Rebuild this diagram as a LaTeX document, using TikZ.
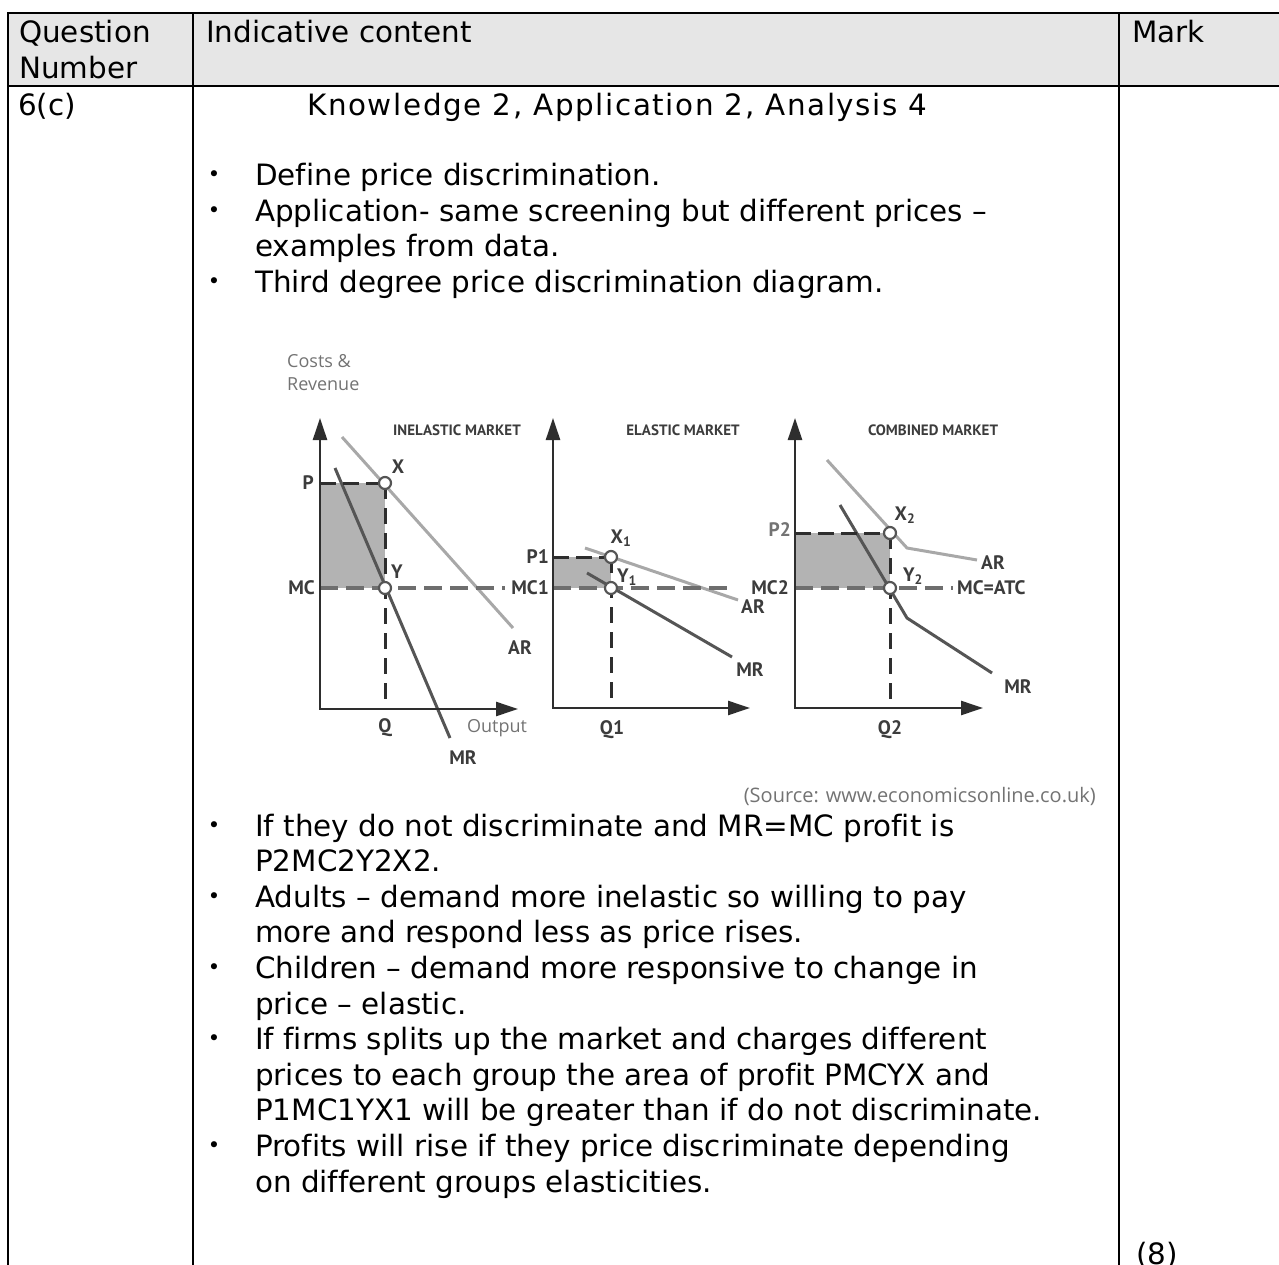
\documentclass[tikz,border=0pt]{standalone}
\usepackage{fontspec}
\setmainfont{DejaVu Sans}[Ligatures=NoCommon]
\newfontfamily\plotfont{Open Sans}
\newfontfamily\tagfont{PT Sans}
\usetikzlibrary{matrix,positioning,calc,arrows.meta}

\definecolor{headfill}{HTML}{E6E6E6}
\definecolor{profit}{HTML}{B3B3B3}
\definecolor{arcol}{HTML}{A8A8A8}
\definecolor{mrcol}{HTML}{555555}
\definecolor{axcol}{HTML}{2E2E2E}
\definecolor{mccol}{HTML}{6E6E6E}
\definecolor{tagcol}{HTML}{3C3C3C}
\definecolor{notecol}{HTML}{737373}

\begin{document}
\begin{tikzpicture}[x=1pt, y=-1pt,
    body/.style={anchor=base west, inner sep=0pt,
      font=\fontsize{29.4}{35.5}\selectfont},
    dot/.style={anchor=base, inner sep=0pt,
      font=\fontsize{21}{22}\selectfont},
    axis/.style={draw=axcol, line width=2.5pt,
      {Triangle[length=22pt, width=14pt]}-{Triangle[length=22pt, width=14pt]}},
    arline/.style={draw=arcol, line width=3pt},
    mrline/.style={draw=mrcol, line width=3pt},
    pline/.style={draw=axcol, line width=3pt, dash pattern=on 16pt off 7pt},
    mcline/.style={draw=mccol, line width=3.5pt, dash pattern=on 18pt off 8pt},
    qline/.style={draw=axcol, line width=3pt, dash pattern=on 16pt off 9pt},
    eq/.style={circle, draw=mrcol, fill=white, line width=2.2pt,
      minimum size=12pt, inner sep=0pt},
    tag/.style={inner sep=0pt, text=tagcol,
      font=\tagfont\bfseries\fontsize{19.5}{21}\selectfont},
    head/.style={inner sep=0pt, text=tagcol,
      font=\tagfont\bfseries\fontsize{15}{17}\selectfont},
    note/.style={inner sep=0pt, text=notecol,
      font=\plotfont\fontsize{18}{23}\selectfont}]

\useasboundingbox (0,0) rectangle (1279,1265);

% table frame
\matrix (tbl) [matrix of nodes, nodes in empty cells, anchor=north west,
    inner sep=0pt, column sep=-2pt, row sep=-2pt,
    nodes={draw, line width=2pt, inner sep=0pt},
    column 1/.style={nodes={minimum width=185pt}},
    column 2/.style={nodes={minimum width=926pt}},
    column 3/.style={nodes={minimum width=200pt}},
    row 1/.style={nodes={minimum height=73pt, fill=headfill}},
    row 2/.style={nodes={minimum height=1250pt}}] at (7,12) {
  & & \\
  & & \\
};

% header row
\node[body] (qhead) at (19,43) {Question};
\node[body] (qhead2) at (19,78.5) {Number};
\node[body] (chead) at (206,43) {Indicative content};
\node[body] (mhead) at (1132,43) {Mark};

% first row
\node[body] (qno) at (18,116) {6(c)};
\node[body] (weights) at (307,116)
  {\addfontfeature{LetterSpace=5.5}Knowledge 2, Application 2, Analysis 4};
\foreach \ln [count=\i from 0] in {{Define price discrimination.},
    {Application- same screening but different prices –},
    {examples from data.},
    {Third degree price discrimination diagram.}}
  \node[body] (top\i) at (255,{186+35.5*\i}) {\ln};
\foreach \i in {0,1,3}
  \node[dot] (tdot\i) at (214,{182+35.5*\i}) {•};

\foreach \ln [count=\i from 0] in {{If they do not discriminate and MR=MC profit is},
    {P2MC2Y2X2.},
    {Adults – demand more inelastic so willing to pay},
    {more and respond less as price rises.},
    {Children – demand more responsive to change in},
    {price – elastic.},
    {If firms splits up the market and charges different},
    {prices to each group the area of profit PMCYX and},
    {P1MC1YX1 will be greater than if do not discriminate.},
    {Profits will rise if they price discriminate depending},
    {on different groups elasticities.}}
  \node[body] (low\i) at (255,{836+35.6*\i}) {\ln};
\foreach \i in {0,2,4,6,9}
  \node[dot] (ldot\i) at (214,{832+35.6*\i}) {•};

\node[body] (mark) at (1136,1264) {(8)};

% diagram
\node[note, anchor=north west, align=left] (costs) at (287,354)
  {Costs \&\\Revenue};

\coordinate (o1) at (320,709);
\coordinate (o2) at (553,708);
\coordinate (o3) at (795,708);
\coordinate (x1) at (385,483);
\coordinate (y1) at (385,588);
\coordinate (x2) at (611,557);
\coordinate (y2) at (611,588);
\coordinate (x3) at (890,533);
\coordinate (y3) at (890,588);

\fill[profit] (o1 |- x1) rectangle (y1);
\fill[profit] (o2 |- x2) rectangle (y2);
\fill[profit] (o3 |- x3) rectangle (y3);

\draw[arline] (342,437) -- (513,628);
\draw[mrline] (335,468) -- (450,738);
\draw[arline] (585,548) -- (738,600);
\draw[mrline] (587,573) -- (732,657);
\draw[arline] (827,460) -- (907,548) -- (977,560);
\draw[mrline] (840,505) -- (907,618) -- (992,673);

\draw[pline] (o1 |- x1) -- (x1);
\draw[pline] (o2 |- x2) -- (x2);
\draw[pline] (o3 |- x3) -- (x3);
\draw[mcline] (o1 |- y1) -- (505,588);
\draw[mcline] (o2 |- y2) -- (733,588);
\draw[mcline] (o3 |- y3) -- (953,588);
\draw[qline] (x1) -- (o1 -| x1);
\draw[qline] (x2) -- (o2 -| x2);
\draw[qline] (x3) -- (o3 -| x3);

\draw[axis] (320,418) -- (o1) -- (518,709);
\draw[axis] (553,418) -- (o2) -- (750,708);
\draw[axis] (795,418) -- (o3) -- (983,708);

\node[eq] (ptX) at (x1) {};
\node[eq] (ptY) at (y1) {};
\node[eq] (ptXa) at (x2) {};
\node[eq] (ptYa) at (y2) {};
\node[eq] (ptXb) at (x3) {};
\node[eq] (ptYb) at (y3) {};

\node[head] (h1) at (457,430) {INELASTIC MARKET};
\node[head] (h2) at (683,430) {ELASTIC MARKET};
\node[head] (h3) at (933,430) {COMBINED MARKET};

\node[tag, anchor=east] (lP) at (314,483) {P};
\node[tag, anchor=east] (lMC) at (315,588) {MC};
\node[tag] (lX) at (398,467) {X};
\node[tag] (lY) at (397,572) {Y};
\node[tag] (lAR) at (520,648) {AR};
\node[tag] (lQ) at (385,728) {Q};
\node[note] (lout) at (497,728) {Output};
\node[tag] (lMR) at (463,758) {MR};

\node[tag, anchor=east] (lP1) at (549,557) {P1};
\node[tag, anchor=east] (lMC1) at (549,588) {MC1};
\node[tag] (lX1) at (621,538) {X\textsubscript{1}};
\node[tag] (lY1) at (627,577) {Y\textsubscript{1}};
\node[tag] (lAR1) at (753,607) {AR};
\node[tag] (lMR1) at (750,670) {MR};
\node[tag] (lQ1) at (612,730) {Q1};

\node[tag, anchor=east, text=notecol] (lP2) at (791,530) {P2};
\node[tag, anchor=east] (lMC2) at (789,588) {MC2};
\node[tag] (lX2) at (905,515) {X\textsubscript{2}};
\node[tag] (lY2) at (913,576) {Y\textsubscript{2}};
\node[tag] (lAR2) at (993,563) {AR};
\node[tag, anchor=west] (lATC) at (957,588) {MC=ATC};
\node[tag] (lMR2) at (1018,687) {MR};
\node[tag] (lQ2) at (890,730) {Q2};

\node[note, anchor=base east, font=\plotfont\fontsize{20}{22}\selectfont]
  (src) at (1096,802) {(Source: www.economicsonline.co.uk)};
\end{tikzpicture}
\end{document}
